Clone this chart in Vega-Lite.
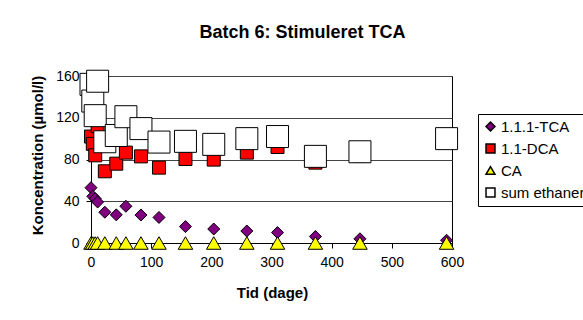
{
  "$schema": "https://vega.github.io/schema/vega-lite/v6.json",
  "width": 361,
  "height": 167,
  "autosize": {"type": "none"},
  "padding": {"left": 91, "top": 76, "right": 131, "bottom": 77},
  "background": "white",
  "title": {
    "text": "Batch 6: Stimuleret TCA",
    "font": "Liberation Sans",
    "fontSize": 18,
    "fontWeight": "bold",
    "color": "black",
    "anchor": "middle",
    "dx": 31,
    "offset": 26
  },
  "data": {
    "values": [
      {"t": 0, "s": "1.1.1-TCA", "c": 53},
      {"t": 3, "s": "1.1.1-TCA", "c": 44.7},
      {"t": 7, "s": "1.1.1-TCA", "c": 42.5},
      {"t": 11, "s": "1.1.1-TCA", "c": 39.3},
      {"t": 23, "s": "1.1.1-TCA", "c": 29.5},
      {"t": 42, "s": "1.1.1-TCA", "c": 27},
      {"t": 58, "s": "1.1.1-TCA", "c": 35.2},
      {"t": 83, "s": "1.1.1-TCA", "c": 26.8},
      {"t": 113, "s": "1.1.1-TCA", "c": 24.5},
      {"t": 157, "s": "1.1.1-TCA", "c": 15.7},
      {"t": 204, "s": "1.1.1-TCA", "c": 13.4},
      {"t": 259, "s": "1.1.1-TCA", "c": 11.5},
      {"t": 310, "s": "1.1.1-TCA", "c": 10},
      {"t": 373, "s": "1.1.1-TCA", "c": 6.2},
      {"t": 447, "s": "1.1.1-TCA", "c": 4},
      {"t": 591, "s": "1.1.1-TCA", "c": 2.6},
      {"t": 0, "s": "1.1-DCA", "c": 102},
      {"t": 3, "s": "1.1-DCA", "c": 95},
      {"t": 7, "s": "1.1-DCA", "c": 84},
      {"t": 11, "s": "1.1-DCA", "c": 112},
      {"t": 23, "s": "1.1-DCA", "c": 68.7},
      {"t": 42, "s": "1.1-DCA", "c": 76},
      {"t": 58, "s": "1.1-DCA", "c": 86.6},
      {"t": 83, "s": "1.1-DCA", "c": 83},
      {"t": 113, "s": "1.1-DCA", "c": 72.2},
      {"t": 157, "s": "1.1-DCA", "c": 80.5},
      {"t": 204, "s": "1.1-DCA", "c": 79.9},
      {"t": 259, "s": "1.1-DCA", "c": 86.6},
      {"t": 310, "s": "1.1-DCA", "c": 92},
      {"t": 373, "s": "1.1-DCA", "c": 77},
      {"t": 447, "s": "1.1-DCA", "c": 83.5},
      {"t": 591, "s": "1.1-DCA", "c": 98},
      {"t": 0, "s": "CA", "c": 0},
      {"t": 3, "s": "CA", "c": 0},
      {"t": 7, "s": "CA", "c": 0},
      {"t": 11, "s": "CA", "c": 0},
      {"t": 23, "s": "CA", "c": 0},
      {"t": 42, "s": "CA", "c": 0},
      {"t": 58, "s": "CA", "c": 0},
      {"t": 83, "s": "CA", "c": 0},
      {"t": 113, "s": "CA", "c": 0},
      {"t": 157, "s": "CA", "c": 0},
      {"t": 204, "s": "CA", "c": 0},
      {"t": 259, "s": "CA", "c": 0},
      {"t": 310, "s": "CA", "c": 0},
      {"t": 373, "s": "CA", "c": 0},
      {"t": 447, "s": "CA", "c": 0},
      {"t": 591, "s": "CA", "c": 0},
      {"t": 0, "s": "sum ethaner", "c": 152},
      {"t": 3, "s": "sum ethaner", "c": 136},
      {"t": 7, "s": "sum ethaner", "c": 122},
      {"t": 11, "s": "sum ethaner", "c": 155},
      {"t": 23, "s": "sum ethaner", "c": 97},
      {"t": 42, "s": "sum ethaner", "c": 103},
      {"t": 58, "s": "sum ethaner", "c": 121},
      {"t": 83, "s": "sum ethaner", "c": 109.6},
      {"t": 113, "s": "sum ethaner", "c": 96.7},
      {"t": 157, "s": "sum ethaner", "c": 97.4},
      {"t": 204, "s": "sum ethaner", "c": 94.5},
      {"t": 259, "s": "sum ethaner", "c": 100},
      {"t": 310, "s": "sum ethaner", "c": 102},
      {"t": 373, "s": "sum ethaner", "c": 83},
      {"t": 447, "s": "sum ethaner", "c": 87.4},
      {"t": 591, "s": "sum ethaner", "c": 100}
    ]
  },
  "config": {
    "view": {"stroke": "black", "strokeWidth": 1},
    "axis": {
      "domainColor": "black",
      "domainWidth": 1,
      "tickColor": "black",
      "tickWidth": 1,
      "tickSize": 5,
      "labelFont": "Liberation Sans",
      "labelFontSize": 14,
      "labelColor": "black",
      "labelFlush": false,
      "labelOverlap": false,
      "titleFont": "Liberation Sans",
      "titleFontSize": 15,
      "titleFontWeight": "bold",
      "titleColor": "black",
      "gridColor": "#444444",
      "gridOpacity": 1,
      "gridWidth": 1
    },
    "legend": {
      "labelFont": "Liberation Sans",
      "labelFontSize": 15,
      "labelColor": "black"
    }
  },
  "encoding": {
    "x": {
      "field": "t",
      "type": "quantitative",
      "scale": {"domain": [0, 600], "nice": false, "zero": false},
      "axis": {
        "values": [0, 100, 200, 300, 400, 500, 600],
        "title": "Tid (dage)",
        "grid": false,
        "labelPadding": 7,
        "titleX": 181,
        "titleY": 49,
        "titleBaseline": "middle",
        "titleAlign": "center"
      }
    },
    "y": {
      "field": "c",
      "type": "quantitative",
      "scale": {"domain": [0, 160], "nice": false},
      "axis": {
        "values": [0, 40, 80, 120, 160],
        "title": "Koncentration (µmol/l)",
        "grid": true,
        "labelPadding": 7,
        "titleX": -54,
        "titleY": 79,
        "titleBaseline": "middle",
        "titleAlign": "center",
        "titleAngle": -90
      }
    },
    "color": {
      "field": "s",
      "type": "nominal",
      "scale": {
        "domain": ["1.1.1-TCA", "1.1-DCA", "CA", "sum ethaner"],
        "range": ["#800080", "#FF0000", "#FFFF00", "#FFFFFF"]
      },
      "legend": {
        "title": null,
        "orient": "none",
        "legendX": 387,
        "legendY": 38,
        "fillColor": "white",
        "strokeColor": "black",
        "padding": 5,
        "symbolSize": 80,
        "symbolOpacity": 1,
        "rowPadding": 6,
        "labelOffset": 3,
        "encode": {
          "symbols": {
            "update": {
              "stroke": {"value": "black"},
              "strokeWidth": {"value": 1}
            }
          }
        }
      }
    },
    "shape": {
      "field": "s",
      "type": "nominal",
      "scale": {
        "domain": ["1.1.1-TCA", "1.1-DCA", "CA", "sum ethaner"],
        "range": ["diamond", "square", "triangle-up", "square"]
      },
      "legend": {
        "title": null,
        "orient": "none",
        "legendX": 387,
        "legendY": 38,
        "fillColor": "white",
        "strokeColor": "black",
        "padding": 5,
        "symbolSize": 80,
        "symbolOpacity": 1,
        "rowPadding": 6,
        "labelOffset": 3,
        "encode": {
          "symbols": {
            "update": {
              "stroke": {"value": "black"},
              "strokeWidth": {"value": 1}
            }
          }
        }
      }
    }
  },
  "layer": [
    {
      "transform": [{"filter": "datum.s === '1.1.1-TCA'"}],
      "mark": {"type": "point", "filled": true, "size": 144, "stroke": "black", "strokeWidth": 1, "opacity": 1}
    },
    {
      "transform": [{"filter": "datum.s === '1.1-DCA'"}],
      "mark": {"type": "point", "filled": true, "size": 169, "stroke": "black", "strokeWidth": 1, "opacity": 1}
    },
    {
      "transform": [{"filter": "datum.s === 'CA'"}],
      "mark": {"type": "point", "filled": true, "size": 210, "stroke": "black", "strokeWidth": 1, "opacity": 1}
    },
    {
      "transform": [{"filter": "datum.s === 'sum ethaner'"}],
      "mark": {"type": "point", "filled": true, "size": 484, "stroke": "black", "strokeWidth": 1, "opacity": 1}
    }
  ]
}
